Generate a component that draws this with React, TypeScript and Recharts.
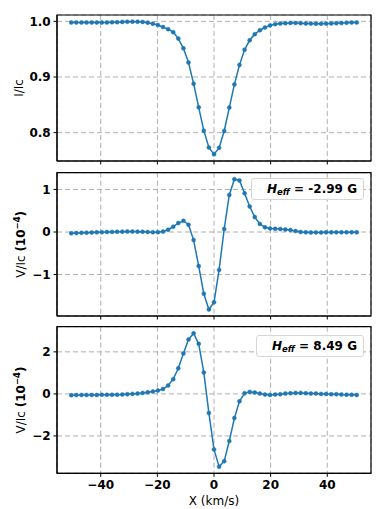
import React from 'react';
import { LineChart, Line, XAxis, YAxis, CartesianGrid, ReferenceArea } from 'recharts';

const xKms = [-50.4, -48.6, -46.8, -45.0, -43.2, -41.4, -39.6, -37.8, -36.0, -34.2, -32.4, -30.6, -28.8, -27.0, -25.2, -23.4, -21.6, -19.8, -18.0, -16.2, -14.4, -12.6, -10.8, -9.0, -7.2, -5.4, -3.6, -1.8, 0.0, 1.8, 3.6, 5.4, 7.2, 9.0, 10.8, 12.6, 14.4, 16.2, 18.0, 19.8, 21.6, 23.4, 25.2, 27.0, 28.8, 30.6, 32.4, 34.2, 36.0, 37.8, 39.6, 41.4, 43.2, 45.0, 46.8, 48.6, 50.4];

const intensity = [0.998, 0.998, 0.998, 0.998, 0.998, 0.998, 0.998, 0.998, 0.9983, 0.9986, 0.999, 0.9993, 0.9995, 0.9993, 0.999,
  0.9976, 0.9958, 0.9933, 0.9897, 0.986, 0.9806, 0.969, 0.9515, 0.926, 0.888, 0.8455, 0.8036, 0.7733, 0.761, 0.7727, 0.803, 0.845, 0.8867, 0.9218, 0.949, 0.966, 0.977, 0.984, 0.989, 0.9927, 0.995, 0.996,
  0.9965, 0.997, 0.997, 0.9968, 0.9962, 0.996, 0.9958, 0.9958, 0.996, 0.9963, 0.9967, 0.997, 0.9975, 0.9978, 0.998];

const stokesV1 = [-0.03, -0.025, -0.02, -0.015, -0.012, -0.008, -0.005, 0.0, 0.003, 0.005, 0.008, 0.01, 0.01, 0.008, 0.005, 0.0, -0.005, -0.003, 0.01,
  0.054, 0.124, 0.21, 0.264, 0.17, -0.19, -0.8, -1.45, -1.82, -1.65, -0.89, 0.07, 0.87, 1.24, 1.21, 0.91, 0.6, 0.35,
  0.19, 0.11, 0.085, 0.075, 0.068, 0.058, 0.045, 0.022, 0.0, -0.008, -0.01, -0.01, -0.01, -0.008, -0.008, -0.008, -0.008, -0.008, -0.008, -0.006];

const stokesV2 = [-0.06, -0.055, -0.05, -0.05, -0.048, -0.048, -0.045, -0.045, -0.04, -0.035, -0.03, -0.016, 0.0, 0.016, 0.048, 0.08, 0.112, 0.16, 0.235, 0.4,
  0.7, 1.22, 1.92, 2.59, 2.88, 2.38, 1.02, -0.91, -2.64, -3.46, -3.2, -2.24, -1.15, -0.35, 0.03, 0.096, 0.064, 0.016,
  -0.032, -0.048, -0.032, -0.016, 0.016, 0.032, 0.048, 0.048, 0.032, 0.016, 0.016, 0.0, 0.0, -0.016, -0.016, -0.032, -0.04, -0.045, -0.05];

const xTicks = [-40, -20, 0, 20, 40];
const iTicks = [0.8, 0.9, 1.0];
const v1Ticks = [-1, 0, 1];
const v2Ticks = [-2, 0, 2];
const heff1 = '-2.99';
const heff2 = '8.49';

const data = xKms.map((x, i) => ({ x, i: intensity[i], v1: stokesV1[i], v2: stokesV2[i] }));

const autoDomain = (arr: number[]): [number, number] => {
  const mn = Math.min(...arr);
  const mx = Math.max(...arr);
  const r = mx - mn;
  return [mn - 0.05 * r, mx + 0.05 * r];
};

const xDomain = autoDomain(xKms);
const FONT = '"DejaVu Sans", sans-serif';
const BLUE = '#1f77b4';

const minusFmt = (v: number) => (v < 0 ? '\u2212' + Math.abs(v) : String(v));

const tickStyle = { fill: '#000', fontSize: 12, fontWeight: 'bold', fontFamily: FONT };

function makeYLabel(kind: 'I' | 'V', baseX: number) {
  return (props: any) => {
    const vb = props.viewBox || {};
    const cx = (vb.x || 0) + baseX;
    const cy = (vb.y || 0) + (vb.height || 0) / 2;
    return (
      <text x={cx} y={cy} transform={`rotate(-90, ${cx}, ${cy})`} textAnchor="middle" fontFamily={FONT} fontSize={12} fill="#000">
        {kind === 'I' ? (
          'I/Ic'
        ) : (
          <>
            <tspan>V/Ic </tspan>
            <tspan fontWeight="bold">(10</tspan>
            <tspan fontWeight="bold" fontSize={8.5} dy={-5}>{'\u22124'}</tspan>
            <tspan fontWeight="bold" dy={5}>)</tspan>
          </>
        )}
      </text>
    );
  };
}

type PanelProps = {
  top: number;
  height: number;
  marginTop: number;
  xAxisHeight: number;
  dataKey: string;
  values: number[];
  yTicks: number[];
  yFmt: (v: number) => string;
  showX: boolean;
  kind: 'I' | 'V';
};

function Panel(p: PanelProps) {
  const yDomain = autoDomain(p.values);
  return (
    <div style={{ position: 'absolute', left: 0, top: p.top }}>
      <LineChart width={382} height={p.height} data={data} margin={{ top: p.marginTop, right: 11, bottom: 0, left: 0 }}>
        <CartesianGrid stroke="#b0b0b0" strokeDasharray="5 3" strokeWidth={1} />
        <XAxis
          type="number"
          dataKey="x"
          domain={xDomain}
          ticks={xTicks}
          allowDataOverflow
          height={p.xAxisHeight}
          tickSize={3.5}
          tickMargin={3.5}
          tickLine={{ stroke: '#000' }}
          axisLine={{ stroke: '#000' }}
          tick={tickStyle}
          tickFormatter={p.showX ? minusFmt : () => ''}
          interval={0}
          label={p.showX ? { value: 'X (km/s)', position: 'insideBottom', offset: 4.5, fill: '#000', fontSize: 12, fontFamily: FONT } : undefined}
        />
        <YAxis
          type="number"
          domain={yDomain}
          ticks={p.yTicks}
          allowDataOverflow
          width={57}
          tickSize={3.5}
          tickMargin={2.8}
          tickLine={{ stroke: '#000' }}
          axisLine={{ stroke: '#000' }}
          tick={tickStyle}
          tickFormatter={p.yFmt}
          interval={0}
          label={{ content: makeYLabel(p.kind, p.kind === 'I' ? 23 : 25) }}
        />
        <ReferenceArea x1={xDomain[0]} x2={xDomain[1]} y1={yDomain[0]} y2={yDomain[1]} fill="none" stroke="#000" strokeWidth={1.2} ifOverflow="visible" />
        <Line
          type="linear"
          dataKey={p.dataKey}
          stroke={BLUE}
          strokeWidth={1.5}
          dot={{ r: 2, fill: BLUE, stroke: BLUE, strokeWidth: 0.5 }}
          isAnimationActive={false}
        />
      </LineChart>
    </div>
  );
}

function HeffBox({ left, top, width, value }: { left: number; top: number; width: number; value: string }) {
  return (
    <div
      style={{
        position: 'absolute',
        left,
        top,
        width,
        height: 22,
        boxSizing: 'border-box',
        border: '1px solid #d6d6d6',
        borderRadius: 3,
        background: 'rgba(255,255,255,0.85)',
        display: 'flex',
        alignItems: 'center',
        justifyContent: 'flex-end',
        paddingRight: 6,
        fontFamily: FONT,
        fontWeight: 'bold',
        fontSize: 12,
        color: '#000',
        whiteSpace: 'nowrap',
        lineHeight: '12px',
      }}
    >
      <span style={{ fontStyle: 'italic' }}>H</span>
      <span style={{ fontStyle: 'italic', fontSize: 8.5, position: 'relative', top: 3 }}>eff</span>
      <span>&nbsp;= {value} G</span>
    </div>
  );
}

export default function App() {
  return (
    <div style={{ position: 'absolute', left: 0, top: 0, width: 382, height: 509, background: '#fff' }}>
      <Panel top={0} height={170} marginTop={15} xAxisHeight={9} dataKey="i" values={intensity} yTicks={iTicks} yFmt={(v) => v.toFixed(1)} showX={false} kind="I" />
      <Panel top={165} height={160} marginTop={7.7} xAxisHeight={9} dataKey="v1" values={stokesV1} yTicks={v1Ticks} yFmt={minusFmt} showX={false} kind="V" />
      <Panel top={320} height={189} marginTop={6.7} xAxisHeight={35.7} dataKey="v2" values={stokesV2} yTicks={v2Ticks} yFmt={minusFmt} showX={true} kind="V" />
      <HeffBox left={250.7} top={178.3} width={113.3} value={heff1} />
      <HeffBox left={256} top={335} width={108} value={heff2} />
    </div>
  );
}
